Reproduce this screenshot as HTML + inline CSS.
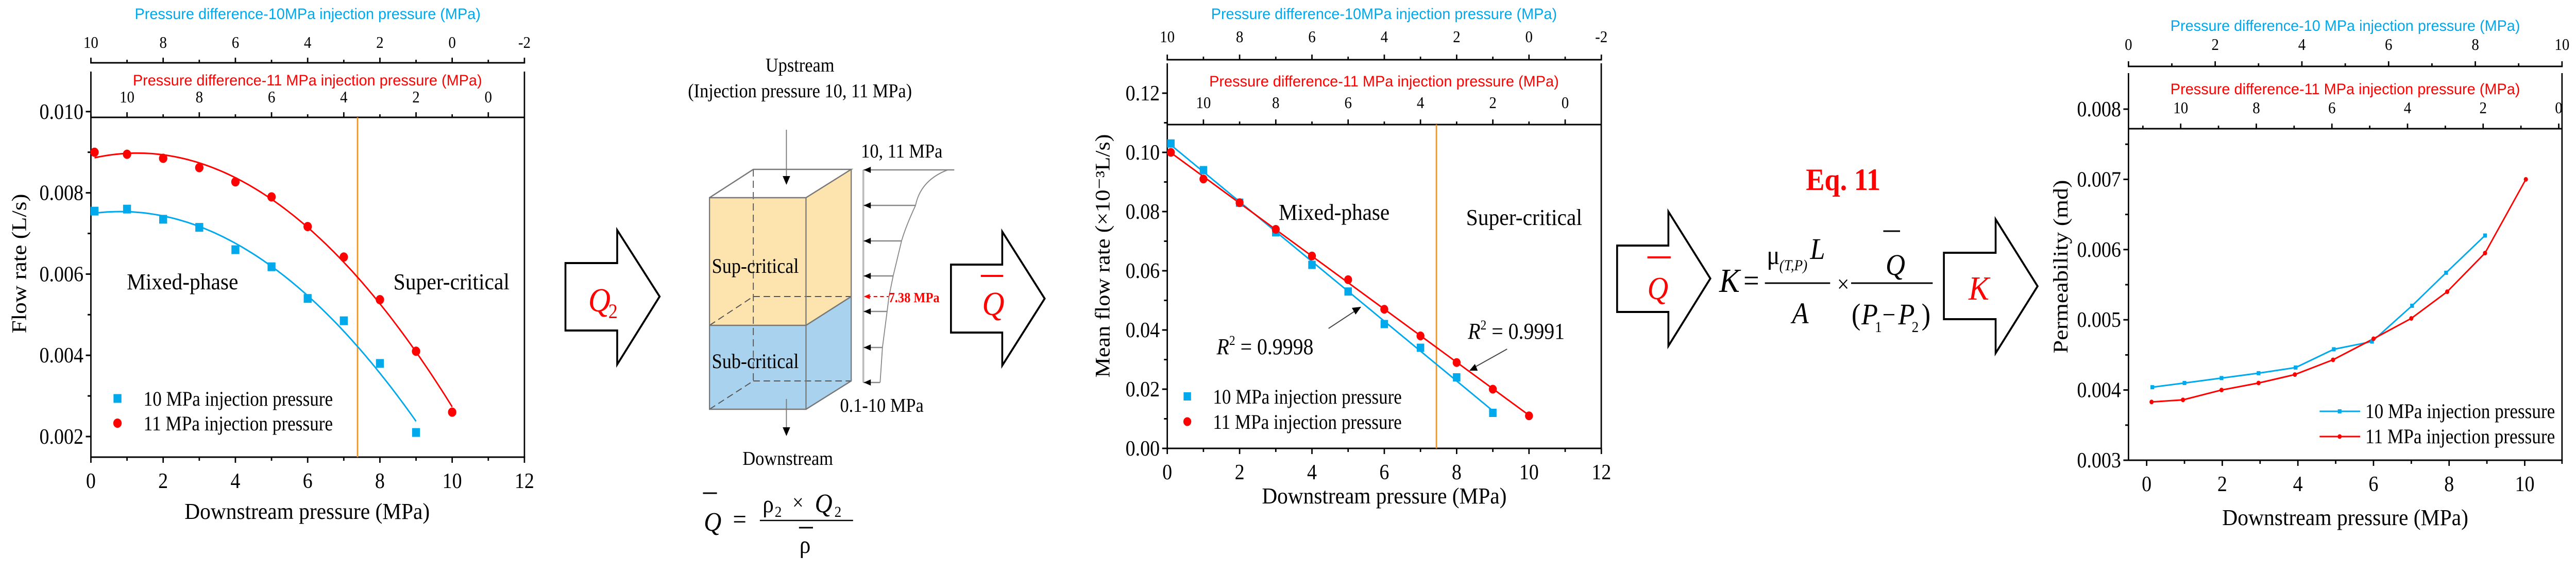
<!DOCTYPE html>
<html><head><meta charset="utf-8">
<style>
html,body{margin:0;padding:0;background:#fff;width:100%;height:100%;overflow:hidden;}
svg{display:block;position:fixed;left:0;top:0;width:100vw;height:100vh;}
text{font-family:"Liberation Serif","DejaVu Serif",serif;}
.sans{font-family:"Liberation Sans","DejaVu Sans",sans-serif;}
</style></head>
<body>
<svg id="fig" xmlns="http://www.w3.org/2000/svg" viewBox="0 0 5526 1115" preserveAspectRatio="none">
<rect width="5526" height="1115" fill="#fff"/>

<g>
<polygon points="1213,511 1324,511 1324,447 1415,576 1324,708 1324,642 1213,642" fill="#fff" stroke="#000" stroke-width="4"/>
<text x="1262" y="605" font-size="66" font-style="italic" fill="#f00">Q</text>
<text x="1305" y="618" font-size="40" fill="#f00">2</text>
</g>

<g>
<text x="1716" y="139" font-size="38" text-anchor="middle">Upstream</text>
<text x="1716" y="189" font-size="38" text-anchor="middle">(Injection pressure 10, 11 MPa)</text>
<polygon points="1522,384 1616,329 1826,329 1826,576 1729,632 1522,632" fill="#fde3ad"/>
<polygon points="1522,632 1729,632 1826,576 1826,740 1729,795 1522,795" fill="#a9d2ee"/>
<polygon points="1522,384 1616,329 1826,329 1729,384" fill="#fff"/>
<g stroke="#555" stroke-width="2" stroke-dasharray="14,8" fill="none">
<line x1="1616" y1="329" x2="1616" y2="740"/>
<line x1="1616" y1="576" x2="1826" y2="576"/>
<line x1="1522" y1="632" x2="1616" y2="576"/>
<line x1="1616" y1="740" x2="1826" y2="740"/>
<line x1="1522" y1="795" x2="1616" y2="740"/>
</g>
<g stroke="#777" stroke-width="2.5" fill="none">
<polygon points="1522,384 1729,384 1729,795 1522,795"/>
<polyline points="1522,384 1616,329 1826,329 1729,384"/>
<polyline points="1826,329 1826,740 1729,795"/>
<line x1="1729" y1="632" x2="1826" y2="576"/>
<line x1="1522" y1="632" x2="1729" y2="632"/>
</g>
<text x="1527" y="530" font-size="40">Sup-critical</text>
<text x="1527" y="715" font-size="40">Sub-critical</text>
<line x1="1687" y1="252" x2="1687" y2="345" stroke="#777" stroke-width="2"/>
<polygon points="1679,342 1695,342 1687,359" fill="#000"/>
<line x1="1687" y1="775" x2="1687" y2="832" stroke="#777" stroke-width="2"/>
<polygon points="1679,830 1695,830 1687,847" fill="#000"/>
<text x="1690" y="903" font-size="38" text-anchor="middle">Downstream</text>
<line x1="1852" y1="330" x2="1852" y2="743" stroke="#bbb" stroke-width="4"/>
<path d="M2047,330 L2033,330 Q1975,350 1964,399 Q1943,440 1934,468 L1916,536 L1907,576 L1903,605 L1893,675 L1888,743" fill="none" stroke="#888" stroke-width="2"/>
<g stroke="#888" stroke-width="2.5">
<line x1="1852" y1="330" x2="2047" y2="330"/>
<line x1="1852" y1="399" x2="1964" y2="399"/>
<line x1="1852" y1="468" x2="1934" y2="468"/>
<line x1="1852" y1="536" x2="1916" y2="536"/>
<line x1="1852" y1="605" x2="1903" y2="605"/>
<line x1="1852" y1="675" x2="1893" y2="675"/>
<line x1="1852" y1="743" x2="1888" y2="743"/>
</g>
<g fill="#000">
<polygon points="1853,330 1868,324 1868,336"/>
<polygon points="1853,399 1868,393 1868,405"/>
<polygon points="1853,468 1868,462 1868,474"/>
<polygon points="1853,536 1868,530 1868,542"/>
<polygon points="1853,605 1868,599 1868,611"/>
<polygon points="1853,675 1868,669 1868,681"/>
<polygon points="1853,743 1868,737 1868,749"/>
</g>
<line x1="1860" y1="576" x2="1906" y2="576" stroke="#f00" stroke-width="2" stroke-dasharray="8,6"/>
<polygon points="1853,576 1866,571 1866,581" fill="#f00"/>
<text x="1906" y="587" font-size="27" font-weight="bold" fill="#f00">7.38 MPa</text>
<text x="1847" y="306" font-size="38">10, 11 MPa</text>
<text x="1802" y="800" font-size="38">0.1-10 MPa</text>
<g>
<text x="1510" y="1031" font-size="52" font-style="italic">Q</text>
<line x1="1508" y1="958" x2="1538" y2="958" stroke="#000" stroke-width="3"/>
<text x="1572" y="1026" font-size="52">=</text>
<text x="1636" y="995" font-size="48">ρ</text>
<text x="1662" y="1004" font-size="30">2</text>
<text x="1700" y="990" font-size="42">×</text>
<text x="1748" y="995" font-size="52" font-style="italic">Q</text>
<text x="1790" y="1004" font-size="30">2</text>
<line x1="1630" y1="1011" x2="1830" y2="1011" stroke="#000" stroke-width="2.5"/>
<text x="1715" y="1074" font-size="48">ρ</text>
<line x1="1714" y1="1025" x2="1744" y2="1025" stroke="#000" stroke-width="3"/>
</g>
</g>

<g>
<polygon points="2040,514 2150,514 2150,450 2241,580 2150,710 2150,646 2040,646" fill="#fff" stroke="#000" stroke-width="4"/>
<text x="2107" y="612" font-size="66" font-style="italic" fill="#f00">Q</text>
<line x1="2104" y1="536" x2="2152" y2="536" stroke="#f00" stroke-width="4"/>
</g>

<text x="3954" y="369" font-size="60" font-weight="bold" fill="#f00" text-anchor="middle">Eq. 11</text>
<g>
<polygon points="3469,477 3579,477 3579,411 3669,541 3579,672 3579,606 3469,606" fill="#fff" stroke="#000" stroke-width="4"/>
<text x="3534" y="581" font-size="62" font-style="italic" fill="#f00">Q</text>
<line x1="3534" y1="500" x2="3584" y2="500" stroke="#f00" stroke-width="4"/>
</g>
<g>
<text x="3688" y="567" font-size="66" font-style="italic">K</text>
<text x="3740" y="565" font-size="60">=</text>
<line x1="3786" y1="550" x2="3926" y2="550" stroke="#000" stroke-width="3"/>
<text x="3790" y="513" font-size="52">μ</text>
<text x="3817" y="525" font-size="30" font-style="italic">(T,P)</text>
<text x="3883" y="503" font-size="58" font-style="italic">L</text>
<text x="3862" y="628" font-size="58" font-style="italic" text-anchor="middle">A</text>
<text x="3954" y="567" font-size="46" text-anchor="middle">×</text>
<line x1="3971" y1="550" x2="4146" y2="550" stroke="#000" stroke-width="3"/>
<text x="4066" y="534" font-size="58" font-style="italic" text-anchor="middle">Q</text>
<line x1="4040" y1="449" x2="4076" y2="449" stroke="#000" stroke-width="3"/>
<text x="3972" y="630" font-size="58">(</text>
<text x="3993" y="630" font-size="58" font-style="italic">P</text>
<text x="4022" y="645" font-size="30">1</text>
<text x="4038" y="628" font-size="50">−</text>
<text x="4072" y="630" font-size="58" font-style="italic">P</text>
<text x="4101" y="645" font-size="30">2</text>
<text x="4122" y="630" font-size="58">)</text>
</g>
<g>
<polygon points="4170,491 4281,491 4281,426 4371,556 4281,686 4281,620 4170,620" fill="#fff" stroke="#000" stroke-width="4"/>
<text x="4245" y="582" font-size="66" font-style="italic" fill="#f00" text-anchor="middle">K</text>
</g>
</svg>

<script>
// ---------- data ----------
const c1X10 = [0.1, 1, 2, 3, 4, 5, 6, 7, 8, 9];
const c1Y10 = [0.00755, 0.0076, 0.00735, 0.00715, 0.0066, 0.00618, 0.0054, 0.00485, 0.0038, 0.0021];
const c1X11 = [0.1, 1, 2, 3, 4, 5, 6, 7, 8, 9, 10];
const c1Y11 = [0.0090, 0.00895, 0.00885, 0.00862, 0.00827, 0.0079, 0.00717, 0.00642, 0.00537, 0.0041, 0.0026];
const c1XTicks = [0, 2, 4, 6, 8, 10, 12];
const c1YTicks = [0.002, 0.004, 0.006, 0.008, 0.010];
const c1YLabels = ["0.002", "0.004", "0.006", "0.008", "0.010"];

const c2X10 = [0.1, 1, 2, 3, 4, 5, 6, 7, 8, 9];
const c2Y10 = [0.103, 0.094, 0.083, 0.073, 0.062, 0.053, 0.042, 0.034, 0.024, 0.012];
const c2X11 = [0.1, 1, 2, 3, 4, 5, 6, 7, 8, 9, 10];
const c2Y11 = [0.100, 0.091, 0.083, 0.074, 0.065, 0.057, 0.047, 0.038, 0.029, 0.020, 0.011];
const c2XTicks = [0, 2, 4, 6, 8, 10, 12];
const c2YTicks = [0, 0.02, 0.04, 0.06, 0.08, 0.10, 0.12];
const c2YLabels = ["0.00", "0.02", "0.04", "0.06", "0.08", "0.10", "0.12"];

const c3X10 = [0.15, 1.0, 1.98, 2.96, 3.94, 4.95, 5.96, 7.02, 7.92, 8.95];
const c3Y10 = [0.00404, 0.0041, 0.00417, 0.00424, 0.00432, 0.00458, 0.00469, 0.0052, 0.00567, 0.0062];
const c3X11 = [0.13, 0.96, 1.98, 2.96, 3.92, 4.93, 6.0, 7.0, 7.95, 8.95, 10.03];
const c3Y11 = [0.00383, 0.00386, 0.004, 0.0041, 0.00422, 0.00443, 0.00473, 0.00502, 0.0054, 0.00595, 0.0070];
const c3XTicks = [0, 2, 4, 6, 8, 10];
const c3YTicks = [0.003, 0.004, 0.005, 0.006, 0.007, 0.008];
const c3YLabels = ["0.003", "0.004", "0.005", "0.006", "0.007", "0.008"];

const critical1 = 7.38;
const critical2 = 7.44;
const BLUE = "#00a8ec", RED = "#ff0000", ORANGE = "#f7941d";

const svg = document.getElementById('fig');
const NS = 'http://www.w3.org/2000/svg';
function mk(tag, attrs) {
  const e = document.createElementNS(NS, tag);
  for (const k in attrs) e.setAttribute(k, attrs[k]);
  svg.appendChild(e);
  return e;
}
function txt(x, y, s, attrs) {
  const e = mk('text', Object.assign({x: x, y: y}, attrs || {}));
  e.textContent = s;
  return e;
}
function line(x1, y1, x2, y2, stroke, w) {
  return mk('line', {x1: x1, y1: y1, x2: x2, y2: y2, stroke: stroke || '#000', 'stroke-width': w || 3});
}
function polyfit2(xs, ys) {
  let S = [0,0,0,0,0], T = [0,0,0];
  for (let i = 0; i < xs.length; i++) {
    let p = 1;
    for (let k = 0; k < 5; k++) { S[k] += p; if (k < 3) T[k] += p * ys[i]; p *= xs[i]; }
  }
  const A = [[S[0],S[1],S[2],T[0]],[S[1],S[2],S[3],T[1]],[S[2],S[3],S[4],T[2]]];
  for (let i = 0; i < 3; i++) for (let j = i+1; j < 3; j++) { const f = A[j][i]/A[i][i]; for (let k = i; k < 4; k++) A[j][k] -= f*A[i][k]; }
  const c = [0,0,0];
  for (let i = 2; i >= 0; i--) { let s = A[i][3]; for (let k = i+1; k < 3; k++) s -= A[i][k]*c[k]; c[i] = s/A[i][i]; }
  return c;
}
function linfit(xs, ys) {
  const n = xs.length; let sx=0, sy=0, sxx=0, sxy=0;
  for (let i = 0; i < n; i++) { sx+=xs[i]; sy+=ys[i]; sxx+=xs[i]*xs[i]; sxy+=xs[i]*ys[i]; }
  const b = (n*sxy - sx*sy)/(n*sxx - sx*sx);
  return [(sy - b*sx)/n, b];
}
function frame(o, id) {
  let e;
  e = line(o.L, o.spineTop, o.L, o.B);
  
  
  e = line(o.R, o.spineTop, o.R, o.B);
  
  
  e = line(o.L - 1.5, o.B, o.R + 1.5, o.B);
  
  
  e = line(o.L, o.T, o.R, o.T);
  
  
  e = line(o.L - 1.5, o.blueY, o.R + 1.5, o.blueY);
  
  
}
function xTicks(o, id, majors, minors) {
  majors.forEach(v => {
    const x = o.sx(v);
    line(x, o.B, x, o.B + 11);
    const t = txt(x, o.B + 60, String(v), {'font-size': 42, 'text-anchor': 'middle'});
    
    
  });
  minors.forEach(v => { const x = o.sx(v); line(x, o.B, x, o.B + 7); });
}
function yTicks(o, id, vals, labels, minors) {
  vals.forEach((v, i) => {
    const y = o.sy(v);
    line(o.L - 11, y, o.L, y);
    const t = txt(o.L - 16, y + 14, labels[i], {'font-size': 42, 'text-anchor': 'end'});
    
    
  });
  minors.forEach(v => { const y = o.sy(v); line(o.L - 7, y, o.L, y); });
}
function topTicks(o, id, axisY, toX, majors, minors, labelY, color) {
  majors.forEach(v => {
    const x = toX(v);
    if (x < o.L - 2 || x > o.R + 2) return;
    line(x, axisY, x, axisY - 10);
    const t = txt(x, labelY, String(v), {'font-size': 32, 'text-anchor': 'middle'});
    
    
  });
  minors.forEach(v => {
    const x = toX(v);
    if (x < o.L - 2 || x > o.R + 2) return;
    line(x, axisY, x, axisY - 6);
  });
}
function topTitle(x1, x2, y, s, color, name) {
  const t = txt(x1, y, s, {'font-size': 30, fill: color, textLength: x2 - x1, lengthAdjust: 'spacingAndGlyphs', 'class': 'sans'});
  
  
}
function ytitle(cx, cy, len, s, name, size) {
  const t = txt(0, 0, s, {'font-size': size || 44, 'text-anchor': 'middle', transform: 'translate(' + cx + ',' + cy + ') rotate(-90)', textLength: len, lengthAdjust: 'spacingAndGlyphs'});
  
  
  return t;
}
function label(x, y, s, len, name, size) {
  const t = txt(x, y, s, {'font-size': size || 44, textLength: len, lengthAdjust: 'spacingAndGlyphs'});
  
  
  return t;
}
function square(x, y, s, color, name) {
  const e = mk('rect', {x: x - s/2, y: y - s/2, width: s, height: s, fill: color});
  
  
}
function dot(x, y, r, color, name) {
  const e = mk('circle', {cx: x, cy: y, r: r, fill: color});
  
  
}

// ========== Chart 1 ==========
const o1 = {L: 195, R: 1125, B: 888, T: 228, spineTop: 139, blueY: 122,
  sx: v => 195 + v * 77.5, sy: v => 848 - (v - 0.002) * 78900};
frame(o1, 'chart1');
xTicks(o1, 'chart1', c1XTicks, [1,3,5,7,9,11]);
yTicks(o1, 'chart1', c1YTicks, c1YLabels, [0.003,0.005,0.007,0.009]);
topTicks(o1, 'chart1', o1.blueY, v => o1.sx(10 - v), [10,8,6,4,2,0,-2], [9,7,5,3,1,-1], 93, 'blue');
topTicks(o1, 'chart1', o1.T, v => o1.sx(11 - v), [10,8,6,4,2,0], [11,9,7,5,3,1], 199, 'red');
topTitle(289, 1031, 37, 'Pressure difference-10MPa injection pressure (MPa)', BLUE, 'chart1-blue-axis-title');
topTitle(285, 1034, 166, 'Pressure difference-11 MPa injection pressure (MPa)', RED, 'chart1-red-axis-title');
ytitle(56, 512, 271, 'Flow rate (L/s)', 'chart1-y-axis-title');
label(396, 1008, 'Downstream pressure (MPa)', 526, 'chart1-x-axis-title');
label(272, 562, 'Mixed-phase', 239, 'chart1-mixed-phase-label');
label(844, 562, 'Super-critical', 249, 'chart1-super-critical-label');
let el = line(o1.sx(critical1), o1.T, o1.sx(critical1), o1.B, ORANGE, 3);


[[c1X10, c1Y10, BLUE, '10'], [c1X11, c1Y11, RED, '11']].forEach(([xs, ys, col, nm]) => {
  const c = polyfit2(xs, ys);
  let d = '';
  for (let i = 0; i <= 100; i++) {
    const v = xs[0] + (xs[xs.length-1] - xs[0]) * i / 100;
    d += (i ? 'L' : 'M') + o1.sx(v).toFixed(1) + ',' + o1.sy(c[0] + c[1]*v + c[2]*v*v).toFixed(1);
  }
  const p = mk('path', {d: d, fill: 'none', stroke: col, 'stroke-width': 3});
  
  
});
c1X10.forEach((v, i) => square(o1.sx(v), o1.sy(c1Y10[i]), 17, BLUE, 'chart1-point-10mpa'));
c1X11.forEach((v, i) => dot(o1.sx(v), o1.sy(c1Y11[i]), 9, RED, 'chart1-point-11mpa'));
square(252, 774, 17, BLUE, 'chart1-legend-marker-10mpa');
dot(252, 822, 9, RED, 'chart1-legend-marker-11mpa');
label(308, 788, '10 MPa injection pressure', 406, 'chart1-legend-10mpa', 40);
label(308, 836, '11 MPa injection pressure', 406, 'chart1-legend-11mpa', 40);

// ========== Chart 2 ==========
const o2 = {L: 2504, R: 3435, B: 871, T: 242, spineTop: 123, blueY: 116,
  sx: v => 2504 + v * 77.6, sy: v => 871 - v * 5750};
frame(o2, 'chart2');
xTicks(o2, 'chart2', c2XTicks, [1,3,5,7,9,11]);
yTicks(o2, 'chart2', c2YTicks, c2YLabels, [0.01,0.03,0.05,0.07,0.09,0.11]);
topTicks(o2, 'chart2', o2.blueY, v => o2.sx(10 - v), [10,8,6,4,2,0,-2], [9,7,5,3,1,-1], 82, 'blue');
topTicks(o2, 'chart2', o2.T, v => o2.sx(11 - v), [10,8,6,4,2,0], [11,9,7,5,3,1], 210, 'red');
topTitle(2598, 3340, 37, 'Pressure difference-10MPa injection pressure (MPa)', BLUE, 'chart2-blue-axis-title');
topTitle(2594, 3344, 168, 'Pressure difference-11 MPa injection pressure (MPa)', RED, 'chart2-red-axis-title');
ytitle(2380, 497, 473, 'Mean flow rate (×10⁻³L/s)', 'chart2-y-axis-title');
label(2707, 978, 'Downstream pressure (MPa)', 525, 'chart2-x-axis-title');
label(2743, 427, 'Mixed-phase', 238, 'chart2-mixed-phase-label');
label(3145, 437, 'Super-critical', 249, 'chart2-super-critical-label');
el = line(o2.sx(critical2), o2.T, o2.sx(critical2), o2.B, ORANGE, 3);


[[c2X10, c2Y10, BLUE, '10'], [c2X11, c2Y11, RED, '11']].forEach(([xs, ys, col, nm]) => {
  const c = linfit(xs, ys);
  const a = xs[0], b = xs[xs.length-1];
  const p = line(o2.sx(a), o2.sy(c[0] + c[1]*a), o2.sx(b), o2.sy(c[0] + c[1]*b), col, 3);
  
  
});
c2X10.forEach((v, i) => square(o2.sx(v), o2.sy(c2Y10[i]), 16, BLUE, 'chart2-point-10mpa'));
c2X11.forEach((v, i) => dot(o2.sx(v), o2.sy(c2Y11[i]), 8.5, RED, 'chart2-point-11mpa'));
square(2547, 770, 16, BLUE, 'chart2-legend-marker-10mpa');
dot(2547, 819, 8.5, RED, 'chart2-legend-marker-11mpa');
label(2602, 784, '10 MPa injection pressure', 405, 'chart2-legend-10mpa', 40);
label(2602, 833, '11 MPa injection pressure', 405, 'chart2-legend-11mpa', 40);
function r2(x, y, val, name) {
  const g = mk('text', {x: x, y: y, 'font-size': 44});
  
  
  const t1 = document.createElementNS(NS, 'tspan'); t1.setAttribute('font-style', 'italic'); t1.textContent = 'R'; g.appendChild(t1);
  const t2 = document.createElementNS(NS, 'tspan'); t2.setAttribute('dy', -18); t2.setAttribute('font-size', 26); t2.textContent = '2'; g.appendChild(t2);
  const t3 = document.createElementNS(NS, 'tspan'); t3.setAttribute('dy', 18); t3.textContent = ' = ' + val; g.appendChild(t3);
}
r2(2610, 688, '0.9998', 'chart2-r2-10mpa');
r2(3149, 658, '0.9991', 'chart2-r2-11mpa');
el = line(2850, 638, 2912, 601, '#444', 2);


mk('polygon', {points: '2920,596 2900,598 2908,611', fill: '#000'});
el = line(3233, 678, 3160, 715, '#444', 2);


mk('polygon', {points: '3152,720 3164,707 3170,720', fill: '#000'});

// ========== Chart 3 ==========
const o3 = {L: 4566, R: 5496, B: 894, T: 250, spineTop: 142, blueY: 129,
  sx: v => 4605 + v * 81.1, sy: v => 894 - (v - 0.003) * 136400};
frame(o3, 'chart3');
xTicks(o3, 'chart3', c3XTicks, [1,3,5,7,9]);
line(o3.R, o3.B, o3.R, o3.B + 7);
yTicks(o3, 'chart3', c3YTicks, c3YLabels, [0.0035,0.0045,0.0055,0.0065,0.0075]);
const blueTop3 = v => o3.L + v * (o3.R - o3.L) / 10;
topTicks(o3, 'chart3', o3.blueY, blueTop3, [0,2,4,6,8,10], [1,3,5,7,9], 97, 'blue');
topTicks(o3, 'chart3', o3.T, v => o3.sx(10.9 - v), [10,8,6,4,2,0], [11,9,7,5,3,1], 220, 'red');
topTitle(4656, 5406, 60, 'Pressure difference-10 MPa injection pressure (MPa)', BLUE, 'chart3-blue-axis-title');
topTitle(4656, 5406, 183, 'Pressure difference-11 MPa injection pressure (MPa)', RED, 'chart3-red-axis-title');
ytitle(4435, 518, 337, 'Permeability (md)', 'chart3-y-axis-title');
label(4767, 1020, 'Downstream pressure (MPa)', 528, 'chart3-x-axis-title');
[[c3X10, c3Y10, BLUE, '10'], [c3X11, c3Y11, RED, '11']].forEach(([xs, ys, col, nm]) => {
  const pts = xs.map((v, i) => o3.sx(v).toFixed(1) + ',' + o3.sy(ys[i]).toFixed(1)).join(' ');
  const p = mk('polyline', {points: pts, fill: 'none', stroke: col, 'stroke-width': 3});
  
  
});
c3X10.forEach((v, i) => square(o3.sx(v), o3.sy(c3Y10[i]), 8, BLUE, 'chart3-point-10mpa'));
c3X11.forEach((v, i) => dot(o3.sx(v), o3.sy(c3Y11[i]), 4.5, RED, 'chart3-point-11mpa'));
el = line(4976, 799, 5063, 799, BLUE, 3);


square(5019, 799, 8, BLUE, 'chart3-legend-marker-10mpa');
el = line(4976, 848, 5063, 848, RED, 3);


dot(5019, 848, 4.5, RED, 'chart3-legend-marker-11mpa');
label(5074, 812, '10 MPa injection pressure', 407, 'chart3-legend-10mpa', 40);
label(5074, 861, '11 MPa injection pressure', 407, 'chart3-legend-11mpa', 40);
</script>
</body></html>
